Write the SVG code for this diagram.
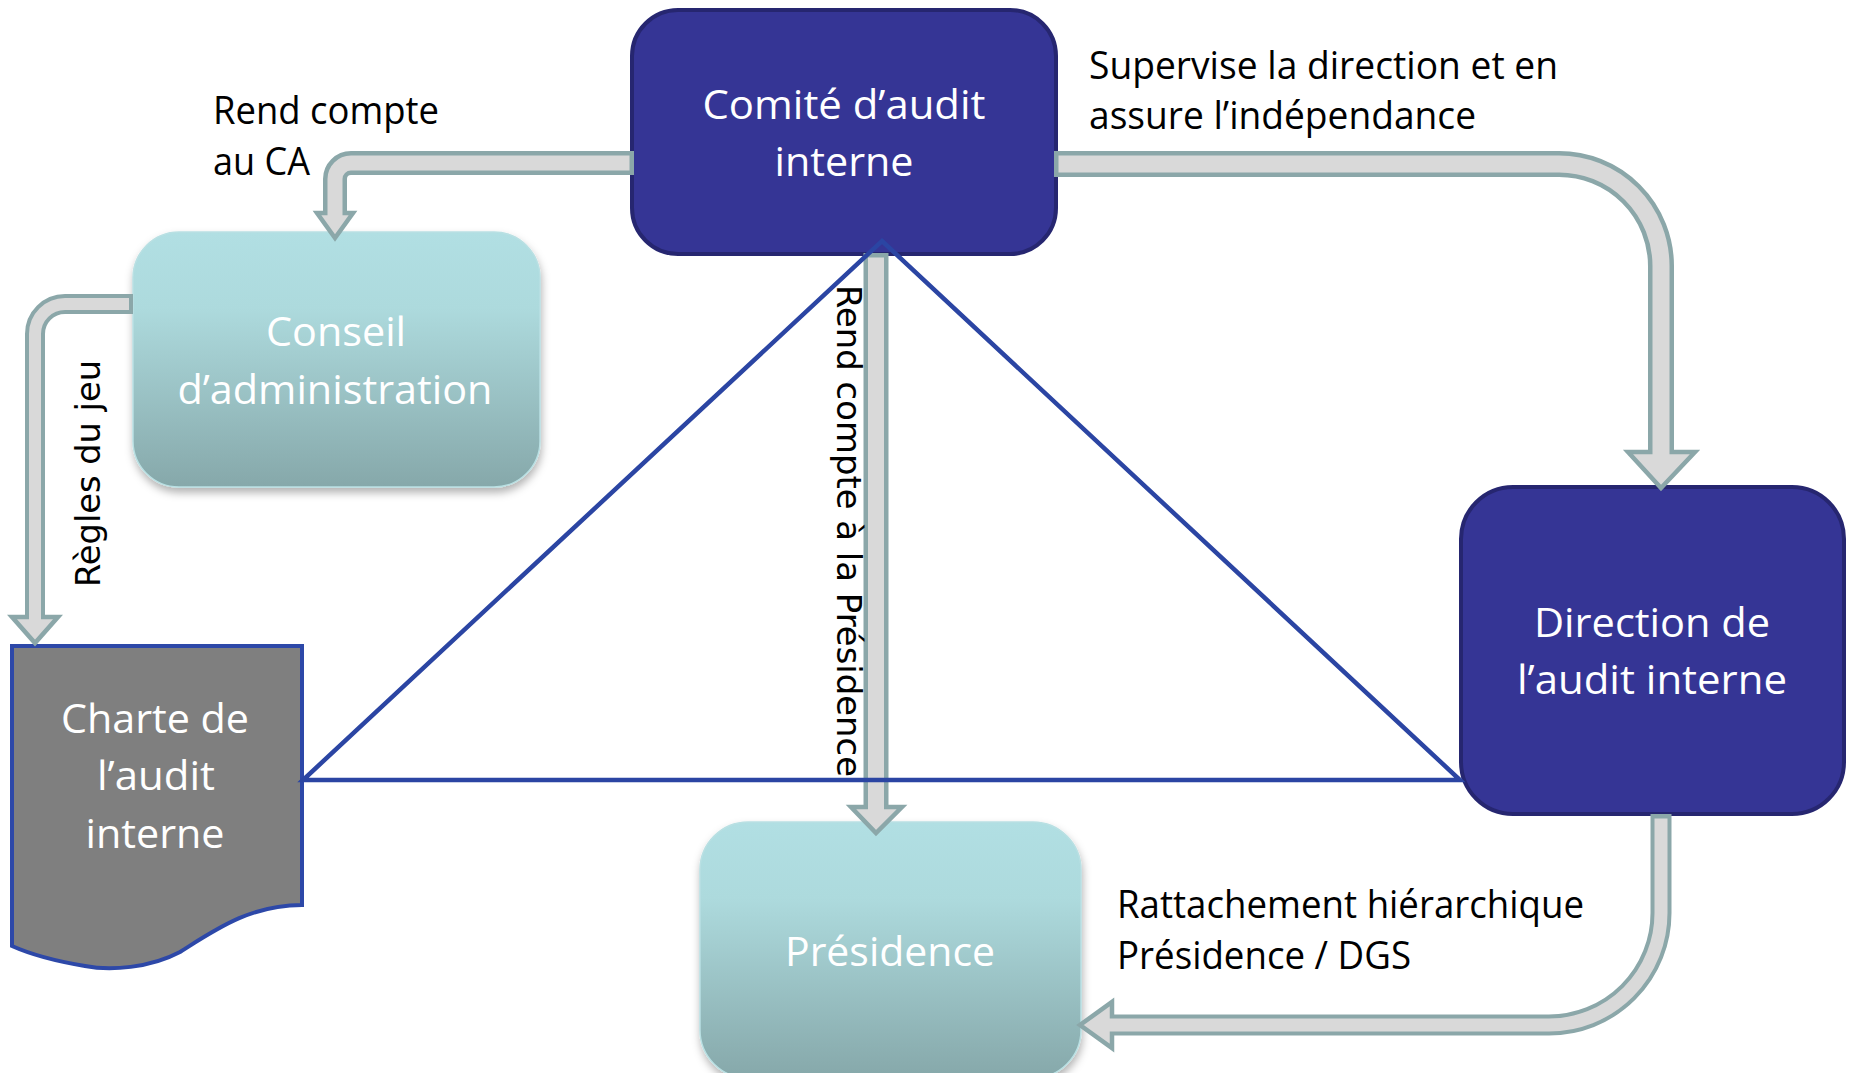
<svg xmlns="http://www.w3.org/2000/svg" width="1854" height="1073" viewBox="0 0 1854 1073">
  <defs>
    <linearGradient id="teal" x1="0" y1="0" x2="0" y2="1">
      <stop offset="0" stop-color="#b1dfe3"/>
      <stop offset="0.3" stop-color="#addadd"/>
      <stop offset="1" stop-color="#86a8aa"/>
    </linearGradient>
    <filter id="shadow" x="-10%" y="-10%" width="120%" height="125%">
      <feDropShadow dx="1" dy="5" stdDeviation="4" flood-color="#000" flood-opacity="0.3"/>
    </filter>
    <style>
      .dark { fill: #353595; stroke: #262670; stroke-width: 4; }
      .light { fill: url(#teal); stroke: #b9e0e3; stroke-width: 1.5; filter: url(#shadow); }
      .doc { fill: #7f7f7f; stroke: #2d48a8; stroke-width: 4; stroke-linejoin: miter; }
      .nt { font-family: "Open Sans", "Liberation Sans", sans-serif; font-size: 40px; fill: #ffffff; text-anchor: middle; }
      .lbl { font-family: "Open Sans", "Liberation Sans", sans-serif; font-size: 38px; fill: #000000; }
      .vt { font-family: "DejaVu Sans", sans-serif; font-size: 34px; fill: #000000; }
      .ao { fill: none; stroke: #8ba7a9; stroke-linejoin: round; }
      .ai { fill: none; stroke: #d9d9d9; stroke-linejoin: round; }
      .ah { fill: #d9d9d9; stroke: #8ba7a9; stroke-width: 4.5; stroke-linejoin: miter; }
      .tri { fill: none; stroke: #2b45a3; stroke-width: 4.5; }
    </style>
  </defs>
  <rect width="1854" height="1073" fill="#ffffff"/>

  <g id="conseil">
    <rect class="light" x="133" y="232" width="407" height="255" rx="46"/>
    <text class="nt" x="336" y="346" textLength="140" lengthAdjust="spacingAndGlyphs">Conseil</text>
    <text class="nt" x="335" y="404" textLength="315" lengthAdjust="spacingAndGlyphs">d’administration</text>
  </g>

  <g id="presidence">
    <rect class="light" x="700" y="822" width="381" height="256" rx="48"/>
    <text class="nt" x="890" y="966" textLength="210" lengthAdjust="spacingAndGlyphs">Présidence</text>
  </g>

  <g id="charte">
    <path class="doc" d="M 12 646 H 302 V 905 C 250 905 215 930 180 952 C 150 968 110 971 85 966 C 55 961 32 955 12 946 Z"/>
    <text class="nt" x="155" y="733" textLength="188" lengthAdjust="spacingAndGlyphs">Charte de</text>
    <text class="nt" x="156" y="790" textLength="118" lengthAdjust="spacingAndGlyphs">l’audit</text>
    <text class="nt" x="155" y="848" textLength="139" lengthAdjust="spacingAndGlyphs">interne</text>
  </g>

  <g id="comite">
    <rect class="dark" x="632" y="10" width="424" height="244" rx="46"/>
    <text class="nt" x="844" y="119" textLength="283" lengthAdjust="spacingAndGlyphs">Comité d’audit</text>
    <text class="nt" x="844" y="176" textLength="139" lengthAdjust="spacingAndGlyphs">interne</text>
  </g>

  <g id="direction">
    <rect class="dark" x="1461" y="487" width="383" height="327" rx="52"/>
    <text class="nt" x="1652" y="637" textLength="236" lengthAdjust="spacingAndGlyphs">Direction de</text>
    <text class="nt" x="1652" y="694" textLength="270" lengthAdjust="spacingAndGlyphs">l’audit interne</text>
  </g>

  <g id="connectors">
    <!-- Comité -> Conseil -->
    <path class="ao" stroke-width="24" d="M 634 163 H 351 A 16 16 0 0 0 335 179 V 215"/>
    <polygon class="ah" points="317,213 353,213 335,238"/>
    <path class="ai" stroke-width="15" d="M 629.5 163 H 351 A 16 16 0 0 0 335 179 V 219"/>

    <!-- Conseil -> Charte -->
    <path class="ao" stroke-width="20" d="M 133 304 H 65 A 30 30 0 0 0 35 334 V 618"/>
    <polygon class="ah" points="12,617 58,617 35,643"/>
    <path class="ai" stroke-width="12" d="M 129 304 H 65 A 30 30 0 0 0 35 334 V 622"/>

    <!-- Comité -> Direction -->
    <path class="ao" stroke-width="26" d="M 1054 164 H 1559 A 102 102 0 0 1 1661 266 V 453"/>
    <polygon class="ah" points="1628,452 1695,452 1661,488"/>
    <path class="ai" stroke-width="17" d="M 1058.5 164 H 1559 A 102 102 0 0 1 1661 266 V 457"/>

    <!-- Direction -> Présidence -->
    <path class="ao" stroke-width="21" d="M 1661 814 V 913 A 112 112 0 0 1 1549 1025 H 1110"/>
    <polygon class="ah" points="1112,1002 1112,1048 1080,1025"/>
    <path class="ai" stroke-width="13" d="M 1661 818.5 V 913 A 112 112 0 0 1 1549 1025 H 1106"/>

    <!-- Comité -> Présidence -->
    <path class="ao" stroke-width="25" d="M 876 253 V 808"/>
    <polygon class="ah" points="851,807 902,807 876,833"/>
    <path class="ai" stroke-width="16" d="M 876 257.5 V 812"/>

    <!-- triangle -->
    <polygon class="tri" points="882,241 1460,780 303,780"/>
  </g>

  <g id="labels">
    <text class="lbl" x="213" y="124" textLength="226" lengthAdjust="spacingAndGlyphs">Rend compte</text>
    <text class="lbl" x="213" y="175" textLength="97" lengthAdjust="spacingAndGlyphs">au CA</text>
    <text class="lbl" x="1089" y="79" textLength="469" lengthAdjust="spacingAndGlyphs">Supervise la direction et en</text>
    <text class="lbl" x="1089" y="129" textLength="387" lengthAdjust="spacingAndGlyphs">assure l’indépendance</text>
    <text class="lbl" x="1117" y="918" textLength="467" lengthAdjust="spacingAndGlyphs">Rattachement hiérarchique</text>
    <text class="lbl" x="1117" y="969" textLength="294" lengthAdjust="spacingAndGlyphs">Présidence / DGS</text>
    <text class="vt" transform="translate(837,285) rotate(90)" textLength="492" lengthAdjust="spacingAndGlyphs">Rend compte à la Présidence</text>
    <text class="vt" transform="translate(100,587) rotate(-90)" textLength="227" lengthAdjust="spacingAndGlyphs">Règles du jeu</text>
  </g>
</svg>
